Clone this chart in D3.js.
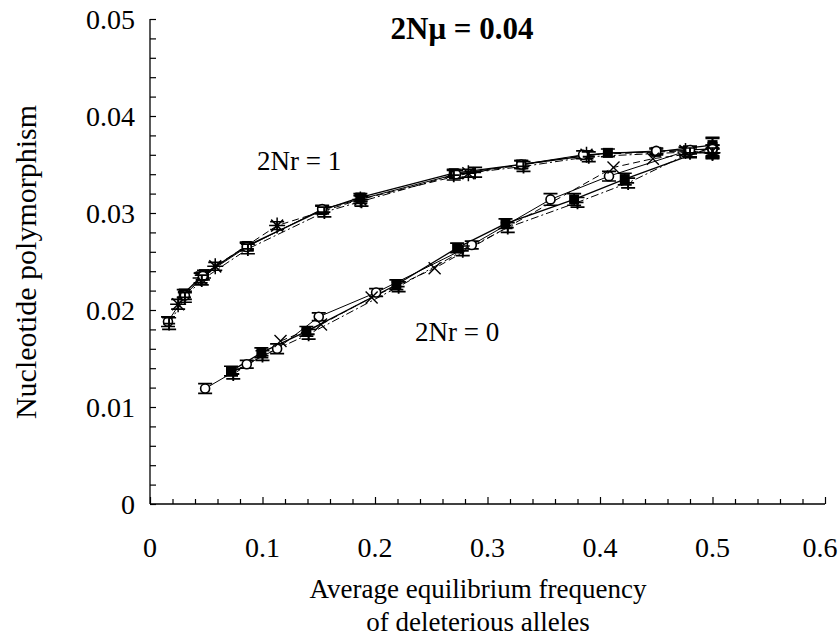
<!DOCTYPE html>
<html><head><meta charset="utf-8">
<script src="https://cdn.jsdelivr.net/npm/d3@7"></script>
<style>body{margin:0;background:#fff}text{font-family:"Liberation Serif","Times New Roman",serif;fill:#000}</style>
</head><body><svg id="c" width="839" height="639"></svg>
<script>
// ---- data ----
const xTicks = [0, 0.1, 0.2, 0.3, 0.4, 0.5, 0.6];
const yTicks = [0, 0.01, 0.02, 0.03, 0.04, 0.05];
const title = "2Nμ = 0.04";
const groupLabels = ["2Nr = 1", "2Nr = 0"];
// 2Nr = 1
const u1x = [0.030, 0.048, 0.086, 0.153, 0.187, 0.270, 0.330, 0.407, 0.450, 0.500];
const u1y = [0.0217, 0.0237, 0.0266, 0.0303, 0.0316, 0.0341, 0.0350, 0.0362, 0.0363, 0.0370];
const u1e = [0.0004, 0.0004, 0.0004, 0.0004, 0.0004, 0.0004, 0.0004, 0.0004, 0.0003, 0.0008];
const u2x = [0.025, 0.045, 0.058, 0.113, 0.187, 0.283, 0.388, 0.476, 0.500];
const u2y = [0.0206, 0.0233, 0.0245, 0.0287, 0.0314, 0.0341, 0.0360, 0.0364, 0.0362];
const u2e = [0.0005, 0.0005, 0.0004, 0.0004, 0.0004, 0.0004, 0.0004, 0.0004, 0.0004];
const u3x = [0.016, 0.031, 0.047, 0.086, 0.153, 0.272, 0.330, 0.385, 0.450, 0.500];
const u3y = [0.0188, 0.0215, 0.0235, 0.0265, 0.0304, 0.0340, 0.0350, 0.0360, 0.0364, 0.0366];
const u3e = [0.0005, 0.0004, 0.0004, 0.0004, 0.0004, 0.0004, 0.0004, 0.0004, 0.0003, 0.0004];
const u4x = [0.017, 0.031, 0.046, 0.087, 0.155, 0.188, 0.270, 0.289, 0.332, 0.390, 0.480, 0.500];
const u4y = [0.0186, 0.0213, 0.0231, 0.0263, 0.0301, 0.0312, 0.0339, 0.0342, 0.0348, 0.0358, 0.0363, 0.0361];
const u4e = [0.0006, 0.0005, 0.0005, 0.0005, 0.0005, 0.0005, 0.0005, 0.0005, 0.0005, 0.0005, 0.0005, 0.0005];
// 2Nr = 0
const l1x = [0.072, 0.099, 0.139, 0.219, 0.273, 0.316, 0.377, 0.422, 0.500];
const l1y = [0.0137, 0.0156, 0.0178, 0.0226, 0.0264, 0.0289, 0.0314, 0.0335, 0.0368];
const l1e = [0.0005, 0.0005, 0.0005, 0.0005, 0.0005, 0.0005, 0.0006, 0.0006, 0.0009];
const l2x = [0.049, 0.086, 0.113, 0.150, 0.201, 0.286, 0.356, 0.408, 0.480, 0.500];
const l2y = [0.0119, 0.0144, 0.0160, 0.0193, 0.0218, 0.0267, 0.0314, 0.0338, 0.0365, 0.0366];
const l2e = [0.0005, 0.0004, 0.0005, 0.0004, 0.0004, 0.0004, 0.0006, 0.0005, 0.0004, 0.0004];
const l3x = [0.116, 0.152, 0.197, 0.253, 0.412, 0.447, 0.500];
const l3y = [0.0168, 0.0185, 0.0213, 0.0243, 0.0347, 0.0356, 0.0364];
const l4x = [0.074, 0.100, 0.141, 0.221, 0.278, 0.318, 0.380, 0.425, 0.480, 0.500];
const l4y = [0.0134, 0.0153, 0.0175, 0.0224, 0.0261, 0.0285, 0.0311, 0.0331, 0.0362, 0.0362];
const l4e = [0.0005, 0.0005, 0.0005, 0.0005, 0.0005, 0.0005, 0.0005, 0.0005, 0.0005, 0.0005];

const series = [
  {x:u1x, y:u1y, e:u1e, marker:"square", dash:null, w:1.3},
  {x:u2x, y:u2y, e:u2e, marker:"asterisk", dash:"7,4", w:1},
  {x:u3x, y:u3y, e:u3e, marker:"circle", dash:null, w:1},
  {x:u4x, y:u4y, e:u4e, marker:"plus", dash:"8,3,2,3", w:1},
  {x:l1x, y:l1y, e:l1e, marker:"square", dash:null, w:1.3},
  {x:l2x, y:l2y, e:l2e, marker:"circle", dash:null, w:1},
  {x:l3x, y:l3y, e:null, marker:"x", dash:"7,4", w:1},
  {x:l4x, y:l4y, e:l4e, marker:"plus", dash:"8,3,2,3", w:1}
];

// ---- chart ----
const svg = d3.select("#c");
const x = d3.scaleLinear().domain([0, 0.6]).range([150, 825]);
const y = d3.scaleLinear().domain([0, 0.05]).range([504, 19]);

// axes
const yAx = svg.append("g").attr("transform","translate(150,0)")
  .call(d3.axisRight(y).tickValues(d3.range(0, 0.0501, 0.002)).tickSize(6).tickFormat(""));
const xAx = svg.append("g").attr("transform","translate(0,504)")
  .call(d3.axisTop(x).tickValues(d3.range(0, 0.6001, 0.02)).tickSize(5).tickFormat(""));
xAx.selectAll(".tick line").filter(d => Math.abs(d*10 - Math.round(d*10)) < 1e-6).attr("y2", -7);
[yAx, xAx].forEach(g => { g.select(".domain").attr("stroke","#000").attr("stroke-width",1.3);
  g.selectAll(".tick line").attr("stroke","#000").attr("stroke-width",1.2); });
xAx.select(".domain").attr("d","M150,0H825");
yAx.select(".domain").attr("d","M0,504V19");

svg.append("g").selectAll("text").data(yTicks).join("text")
  .attr("x",135).attr("y",d=>y(d)).attr("dy","0.35em").attr("text-anchor","end")
  .attr("font-size",28).text(d=>d===0?"0":d.toFixed(2));
svg.append("g").selectAll("text").data(xTicks).join("text")
  .attr("x",d=>Math.min(x(d), 820)).attr("y",557).attr("text-anchor","middle")
  .attr("font-size",28).text(d=>d===0?"0":d.toFixed(1));

svg.append("text").attr("x",478).attr("y",598).attr("text-anchor","middle").attr("font-size",27)
  .text("Average equilibrium frequency");
svg.append("text").attr("x",478).attr("y",631).attr("text-anchor","middle").attr("font-size",27)
  .text("of deleterious alleles");
svg.append("text").attr("transform","translate(36,262) rotate(-90)").attr("text-anchor","middle")
  .attr("font-size",30).text("Nucleotide polymorphism");
svg.append("text").attr("x",462).attr("y",39).attr("text-anchor","middle").attr("font-size",31)
  .attr("font-weight","bold").text(title);
svg.append("text").attr("x",257).attr("y",170).attr("font-size",27).text(groupLabels[0]);
svg.append("text").attr("x",415).attr("y",341).attr("font-size",27).text(groupLabels[1]);

const line = d3.line().x(d=>x(d[0])).y(d=>y(d[1]));
const plot = svg.append("g");
series.forEach(s => {
  const pts = s.x.map((v,i)=>[v, s.y[i], s.e ? s.e[i] : 0]);
  plot.append("path").attr("d", line(pts)).attr("fill","none").attr("stroke","#000")
    .attr("stroke-width", s.w).attr("stroke-dasharray", s.dash);
});
series.forEach(s => {
  const pts = s.x.map((v,i)=>[v, s.y[i], s.e ? s.e[i] : 0]);
  const g = plot.append("g");
  if (s.e) {
    pts.forEach(p => {
      const y0 = y(p[1]-p[2]), y1 = y(p[1]+p[2]), cx = x(p[0]);
      g.append("path").attr("d",`M${cx},${y0}V${y1}M${cx-7},${y0}H${cx+7}M${cx-7},${y1}H${cx+7}`)
        .attr("stroke","#000").attr("stroke-width",1.7).attr("fill","none");
    });
  }
  pts.forEach(p => {
    const cx = x(p[0]), cy = y(p[1]);
    if (s.marker === "square") {
      g.append("rect").attr("x",cx-5).attr("y",cy-5).attr("width",10).attr("height",10).attr("fill","#000");
    } else if (s.marker === "circle") {
      g.append("circle").attr("cx",cx).attr("cy",cy).attr("r",4.5).attr("fill","#fff").attr("stroke","#000").attr("stroke-width",1.6);
    } else if (s.marker === "x") {
      g.append("path").attr("d",`M${cx-6},${cy-6}L${cx+6},${cy+6}M${cx-6},${cy+6}L${cx+6},${cy-6}`).attr("stroke","#000").attr("stroke-width",1.4);
    } else if (s.marker === "asterisk") {
      g.append("path").attr("d",`M${cx-6},${cy-6}L${cx+6},${cy+6}M${cx-6},${cy+6}L${cx+6},${cy-6}M${cx},${cy-8}V${cy+8}M${cx-8},${cy}H${cx+8}`).attr("stroke","#000").attr("stroke-width",1.5);
    } else if (s.marker === "plus") {
      g.append("path").attr("d",`M${cx},${cy-5}V${cy+7}M${cx-6},${cy}H${cx+6}`).attr("stroke","#000").attr("stroke-width",1.8);
    }
  });
});
</script></body></html>
